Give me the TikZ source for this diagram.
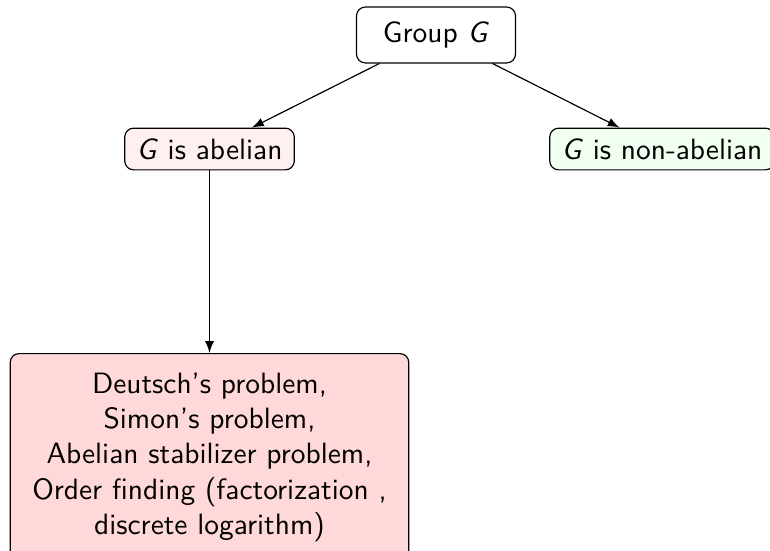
\documentclass[tikz,border=0pt]{standalone}
\usepackage{tikz}
\usetikzlibrary{positioning}
\usetikzlibrary{arrows}
\definecolor{abelpink}{rgb}{1.0, 0.94, 0.94}
\definecolor{nonabgreen}{rgb}{0.94, 1.0, 0.94}
\definecolor{probred}{rgb}{1.0, 0.85, 0.85}

\begin{document}
\begin{tikzpicture}[x=0.34pt,y=-0.34pt,font=\sffamily,
  bigbox/.style={draw, rounded corners=3pt, inner xsep=9pt, inner ysep=5pt, align=center},
  smallbox/.style={draw, rounded corners=3pt, inner xsep=4pt, inner ysep=3.5pt, minimum height=13.6pt},
  link/.style={-latex, line width=0.4pt}]
%set diagram to 770 x 550
\useasboundingbox (0,0) rectangle (770,550);

% Root node
\node [bigbox, fill=white, minimum height=18.4pt] (group) at (436,35) {Group \textit{G}};
% Second level
\node [smallbox, fill=abelpink] (abel) at (209.5,149) {\textit{G} is abelian};
\node [smallbox, fill=nonabgreen] (nonabel) at (662,149) {\textit{G} is non-abelian};
% Problems
\node [bigbox, fill=probred, anchor=north, inner xsep=7.5pt, inner ysep=6.5pt] (problems) at (209.5,353) {Deutsch's problem,\\ Simon's problem,\\ Abelian stabilizer problem,\\ Order finding (factorization ,\\ discrete logarithm)};

% Arrows
\draw [link] (group) -- (abel);
\draw [link] (group) -- (nonabel);
\draw [link] (abel) -- (problems);

\end{tikzpicture}
\end{document}
